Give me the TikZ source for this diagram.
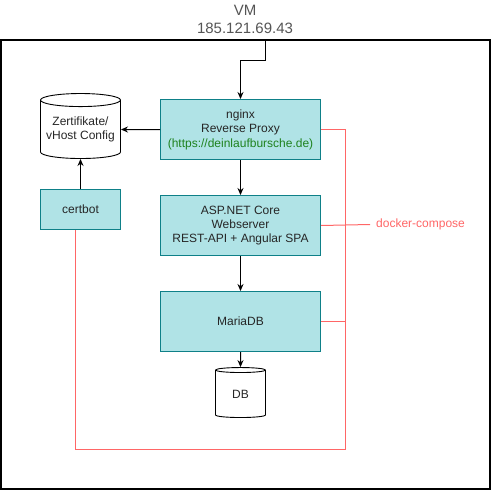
\documentclass[tikz,border=0pt]{standalone}
\usepackage{fontspec}
\setmainfont{Liberation Sans}
\usepackage{tikz}
\usetikzlibrary{
  arrows.meta,
  positioning,
  shapes.geometric,
}
\definecolor{boxfill}{RGB}{176, 227, 230}
\definecolor{boxstroke}{RGB}{14, 128, 136}
\definecolor{composered}{RGB}{255, 102, 102}
\definecolor{urlgreen}{RGB}{30, 130, 30}
\definecolor{vmgray}{RGB}{85, 85, 85}
\tikzstyle{arrow} = [
  -{Stealth[length=7pt,width=6pt]},
  line width=1pt,
  black,
]
\tikzstyle{compose} = [
  line width=1pt,
  composered,
]
\tikzstyle{box} = [
  draw=boxstroke,
  fill=boxfill,
  rectangle,
  line width=1pt,
  align=center,
  text=black!85,
  font=\fontsize{12}{14.4}\selectfont,
]
\tikzstyle{store} = [
  draw,
  cylinder,
  shape border rotate=90,
  line width=0.9pt,
  align=center,
  inner sep=0pt,
  text=black!85,
  font=\fontsize{12}{14.4}\selectfont,
]

\begin{document}
\begin{tikzpicture}[x=1pt,y=-1pt,node distance=35pt and 40pt]
        \useasboundingbox (0,0) rectangle (492,490);
        \draw[line width=1.3pt] (1,40) rectangle (490,489);
        \node[align=center,text=vmgray,font=\fontsize{15}{18}\selectfont] (vm) at (245,19) {VM\\185.121.69.43};
        \coordinate (entry) at (265.5,40);

        \node[box,minimum width=160,minimum height=60] (nginx) at (240.5,129.5) {nginx\\Reverse Proxy\\\textcolor{urlgreen}{(https://deinlaufbursche.de)}};
        \node[box,minimum width=160,minimum height=60] (aspnet) [below=of nginx] {ASP.NET Core\\Webserver\\REST-API + Angular SPA};
        \node[box,minimum width=160,minimum height=60] (mariadb) [below=of aspnet] {MariaDB};
        \node[store,minimum width=50,minimum height=50,aspect=0.3] (db) at (240.5,394) {DB};

        \node[store,minimum width=80,minimum height=65,aspect=0.19] (certs) at (80.5,129.5) {Zertifikate/\\vHost Config};
        \node[box,minimum width=80,minimum height=40] (certbot) at (80.5,209.5) {certbot};

        \node[anchor=west,inner sep=6pt,text=composered,font=\fontsize{12}{14.4}\selectfont] (compose) at (370,224.5) {docker-compose};
        \coordinate (railtop) at (345.5,129.5);
        \coordinate (railbot) at (345.5,449.5);

        % docker-compose group
        \draw[compose] (nginx.east) -- (railtop) -- (railbot) -| ([xshift=-5pt]certbot.south);
        \draw[compose] (aspnet.east) -- (compose.west);
        \draw[compose] (mariadb.east) -- (mariadb.east -| railtop);

        \draw[arrow] (entry) -- ++(0,20) -| (nginx);
        \draw[arrow] (nginx) -- (aspnet);
        \draw[arrow] (aspnet) -- (mariadb);
        \draw[arrow] (mariadb) -- (db);
        \draw[arrow] (nginx.west) -- (certs);
        \draw[arrow] (certbot) -- (certs);
    \end{tikzpicture}
\end{document}
